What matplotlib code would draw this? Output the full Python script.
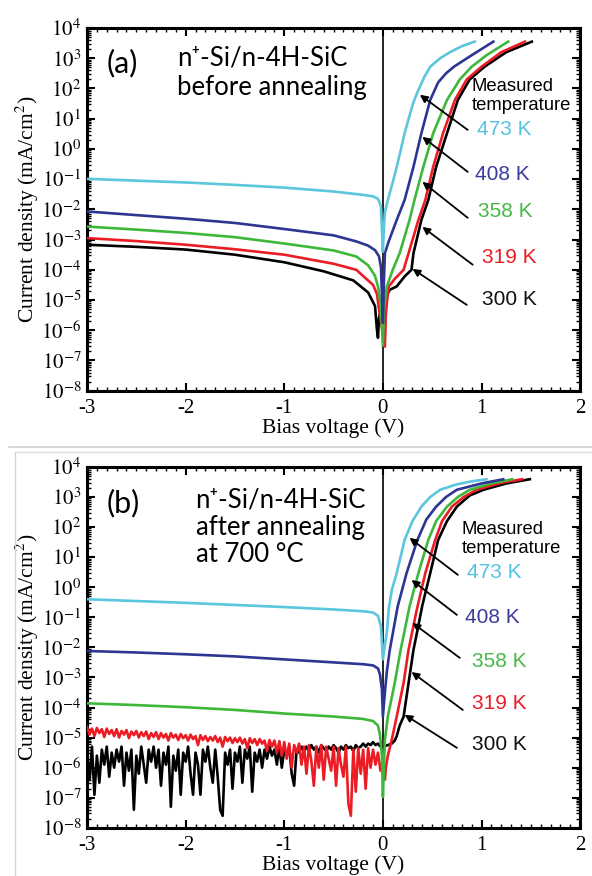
import numpy as np
import matplotlib.pyplot as plt
from matplotlib.lines import Line2D
from matplotlib.ticker import MultipleLocator, LogLocator, FuncFormatter, NullFormatter

plt.rcParams['font.family'] = 'Liberation Serif'
plt.rcParams['mathtext.fontset'] = 'stix'
plt.rcParams['axes.unicode_minus'] = False

# line colours per measured temperature
temps = ['473 K', '408 K', '358 K', '319 K', '300 K']
colors = ['#5bc6dc', '#2e3592', '#3db83a', '#ec1c24', '#000000']
label_colors = ['#52c3e2', '#3b3c9c', '#46b845', '#ec1c24', '#111111']

# ---- (a) before annealing : bias [V], log10 J [mA/cm2]
a473_v = [-3.0, -2.5, -2.0, -1.5, -1.0, -0.5, -0.2, -0.1, -0.05, -0.02, 0.0, 0.01, 0.02, 0.05, 0.1,
          0.14, 0.18, 0.22, 0.27, 0.31, 0.36, 0.42, 0.48, 0.58, 0.68, 0.80, 0.93]
a473_j = [-0.99, -1.05, -1.11, -1.19, -1.28, -1.41, -1.52, -1.57, -1.65, -1.9, -3.4, -2.6, -2.1, -1.69, -1.1,
          -0.59, -0.05, 0.52, 1.1, 1.55, 1.95, 2.38, 2.72, 3.0, 3.2, 3.4, 3.55]
a408_v = [-3.0, -2.5, -2.0, -1.5, -1.0, -0.5, -0.27, -0.15, -0.08, -0.04, -0.02, 0.0, 0.01, 0.02, 0.06,
          0.10, 0.14, 0.22, 0.31, 0.39, 0.48, 0.56, 0.64, 0.72, 0.90, 1.12]
a408_j = [-2.07, -2.19, -2.31, -2.45, -2.65, -2.86, -3.06, -3.2, -3.35, -3.55, -3.9, -5.76, -4.4, -3.45, -3.05,
          -2.7, -2.35, -1.69, -0.59, 0.52, 1.62, 2.2, 2.5, 2.72, 3.1, 3.55]
a358_v = [-3.0, -2.5, -2.0, -1.5, -1.0, -0.5, -0.27, -0.15, -0.08, -0.05, -0.02, 0.0, 0.01, 0.04, 0.10,
          0.17, 0.27, 0.32, 0.41, 0.51, 0.65, 0.78, 0.90, 1.05, 1.27]
a358_j = [-2.57, -2.67, -2.78, -2.92, -3.13, -3.36, -3.56, -3.85, -4.2, -4.55, -5.2, -6.5, -5.3, -4.55, -4.0,
          -3.45, -2.35, -1.69, -0.59, 0.52, 1.62, 2.3, 2.72, 3.1, 3.55]
a319_v = [-3.0, -2.5, -2.0, -1.5, -1.0, -0.5, -0.27, -0.1, -0.06, -0.04, 0.02, 0.03, 0.04, 0.06, 0.12,
          0.21, 0.26, 0.36, 0.43, 0.51, 0.61, 0.73, 0.85, 1.00, 1.2, 1.44]
a319_j = [-2.95, -3.05, -3.17, -3.32, -3.5, -3.8, -4.0, -4.5, -4.8, -5.3, -6.54, -5.5, -5.1, -4.55, -4.3,
          -4.0, -3.45, -2.35, -1.69, -0.59, 0.52, 1.62, 2.3, 2.72, 3.2, 3.55]
a300_v = [-3.0, -2.5, -2.0, -1.5, -1.0, -0.6, -0.3, -0.15, -0.08, -0.06, -0.05, -0.04, -0.02, 0.0, 0.03,
          0.07, 0.14, 0.22, 0.29, 0.31, 0.39, 0.46, 0.54, 0.65, 0.76, 0.88, 1.03, 1.25, 1.51]
a300_j = [-3.17, -3.24, -3.33, -3.5, -3.75, -4.05, -4.35, -4.75, -5.2, -6.0, -6.25, -5.6, -5.3, -5.1, -4.9,
          -4.66, -4.55, -4.22, -4.0, -3.45, -2.35, -1.69, -0.59, 0.52, 1.62, 2.3, 2.72, 3.2, 3.55]

# ---- (b) after annealing at 700 C
b473_v = [-3.0, -2.5, -2.0, -1.5, -1.0, -0.5, -0.2, -0.1, -0.05, -0.02, 0.0, 0.02, 0.04, 0.06, 0.09,
          0.14, 0.22, 0.30, 0.39, 0.48, 0.58, 0.75, 0.90, 1.05]
b473_j = [-0.40, -0.46, -0.52, -0.59, -0.66, -0.74, -0.80, -0.84, -0.95, -1.3, -2.4, -1.9, -1.5, -0.7, -0.1,
          0.47, 1.57, 2.2, 2.68, 3.0, 3.24, 3.42, 3.52, 3.59]
b408_v = [-3.0, -2.5, -2.0, -1.5, -1.0, -0.5, -0.2, -0.1, -0.05, -0.03, -0.01, 0.0, 0.02, 0.04, 0.07,
          0.15, 0.24, 0.35, 0.44, 0.54, 0.64, 0.75, 1.0, 1.22]
b408_j = [-2.12, -2.17, -2.23, -2.3, -2.4, -2.5, -2.56, -2.6, -2.7, -2.9, -3.4, -4.3, -3.5, -2.8, -2.08,
          -0.64, 0.47, 1.57, 2.25, 2.68, 3.0, 3.24, 3.45, 3.59]
b358_v = [-3.0, -2.5, -2.0, -1.5, -1.0, -0.5, -0.2, -0.1, -0.05, -0.03, -0.01, 0.0, 0.01, 0.02, 0.05,
          0.12, 0.18, 0.27, 0.36, 0.46, 0.54, 0.65, 0.76, 0.88, 1.1, 1.31]
b358_j = [-3.86, -3.92, -3.99, -4.08, -4.2, -4.3, -4.38, -4.45, -4.6, -4.9, -5.6, -6.97, -6.0, -5.07, -4.3,
          -3.18, -2.08, -0.64, 0.47, 1.57, 2.2, 2.68, 3.0, 3.24, 3.45, 3.59]

# noisy reverse sweeps at 319 K and 300 K, -3 V .. 0 V in 25 mV steps
sweep_v = np.round(np.arange(-3.0, 0.0001, 0.025), 3)
b319_rev_j = [
    -4.65, -4.9, -4.7, -4.95, -4.68, -4.85, -4.72, -4.98, -4.7, -4.88,
    -4.75, -4.95, -4.72, -5.0, -4.78, -4.9, -4.75, -5.02, -4.8, -4.92,
    -4.78, -5.0, -4.82, -4.95, -4.8, -5.05, -4.85, -4.98, -4.82, -5.05,
    -4.85, -5.0, -4.88, -5.1, -4.85, -5.0, -4.9, -5.08, -4.88, -5.02,
    -4.92, -5.1, -4.9, -5.05, -4.95, -5.25, -4.92, -5.08, -4.95, -5.12,
    -4.98, -5.1, -4.95, -5.15, -5.0, -5.3, -4.98, -5.12, -5.0, -5.18,
    -5.02, -5.15, -5.0, -5.2, -5.05, -5.35, -5.02, -5.18, -5.05, -5.25,
    -5.05, -5.2, -5.1, -5.45, -5.08, -5.3, -5.1, -5.5, -5.12, -5.6,
    -5.15, -5.7, -5.2, -6.0, -5.25, -5.5, -5.2, -5.9, -5.3, -6.2,
    -5.25, -5.8, -6.6, -5.3, -6.0, -5.25, -6.4, -5.3, -5.7, -6.1,
    -5.3, -6.6, -5.35, -5.9, -6.3, -5.3, -7.2, -7.6, -5.4, -6.8,
    -5.35, -6.2, -5.4, -6.7, -5.35, -6.0, -5.4, -5.9, -5.5, -6.1, -5.75]
b300_rev_j = [
    -5.5, -6.4, -5.3, -6.9, -5.6, -6.5, -5.4, -5.9, -5.3, -6.3,
    -5.5, -6.0, -5.4, -5.8, -5.3, -6.6, -5.5, -6.1, -5.4, -7.4,
    -5.6, -6.2, -5.3, -5.9, -6.5, -5.4, -5.8, -5.3, -6.0, -5.4,
    -6.6, -5.5, -5.9, -5.3, -7.3, -5.6, -6.1, -5.4, -6.9, -5.5,
    -5.8, -5.3, -6.2, -6.9, -5.5, -5.9, -6.9, -5.4, -5.8, -5.3,
    -6.0, -6.5, -5.4, -6.3, -7.4, -7.6, -5.5, -5.9, -5.4, -6.7,
    -5.5, -5.8, -5.3, -6.5, -5.4, -5.7, -5.3, -6.8, -5.5, -5.8,
    -5.4, -6.0, -5.4, -5.7, -5.3, -5.6, -5.4, -5.9, -5.3, -6.0,
    -5.4, -5.6, -5.3, -6.2, -6.6, -5.4, -5.5, -5.3, -5.45,
    -5.3, -5.45, -5.25, -5.4, -5.3, -5.5, -5.25, -5.35, -5.45, -5.3,
    -5.4, -5.25, -5.35, -5.5, -5.3, -5.4, -5.25, -5.35, -5.3, -5.45,
    -5.25, -5.35, -5.3, -5.2, -5.3, -5.2, -5.25, -5.15, -5.25, -5.2, -5.3, -5.3]
b319_fwd_v = [0.02, 0.03, 0.05, 0.09, 0.14, 0.21, 0.26, 0.34, 0.43, 0.53, 0.60, 0.70, 0.82, 0.95, 1.2, 1.41]
b319_fwd_j = [-6.4, -6.0, -5.6, -5.07, -4.3, -3.18, -2.08, -0.8, 0.47, 1.57, 2.2, 2.68, 3.0, 3.24, 3.47, 3.59]
b300_fwd_v = [0.05, 0.09, 0.12, 0.14, 0.17, 0.21, 0.26, 0.31, 0.34, 0.40, 0.48, 0.56, 0.65, 0.75, 0.88,
              1.02, 1.25, 1.49]
b300_fwd_j = [-5.25, -5.2, -5.1, -4.95, -4.6, -4.3, -3.18, -2.08, -1.6, -0.6, 0.47, 1.57, 2.2, 2.68, 3.05,
              3.24, 3.45, 3.59]

b319_v = list(sweep_v) + b319_fwd_v
b319_j = b319_rev_j + b319_fwd_j
b300_v = list(sweep_v) + b300_fwd_v
b300_j = b300_rev_j + b300_fwd_j

# label text positions (V, log J) and arrow head / tail
a_label_pos = [(0.95, 0.63), (0.93, -0.86), (0.96, -2.08), (1.0, -3.6), (1.0, -4.99)]
a_arrows = [((0.375, 1.79), (0.86, 0.63)), ((0.40, 0.40), (0.86, -0.76)), ((0.40, -1.09), (0.86, -2.28)),
            ((0.40, -2.58), (0.91, -3.83)), ((0.30, -3.97), (0.85, -5.16))]
b_label_pos = [(0.85, 0.48), (0.83, -1.02), (0.90, -2.48), (0.90, -3.85), (0.90, -5.24)]
b_arrows = [((0.27, 1.64), (0.76, 0.41)), ((0.29, 0.24), (0.75, -0.92)), ((0.30, -1.19), (0.78, -2.35)),
            ((0.29, -2.82), (0.81, -4.08)), ((0.22, -4.24), (0.75, -5.34))]

sans = ['Lato', 'DejaVu Sans']
arial = ['Liberation Sans', 'DejaVu Sans']


def style(ax):
    ax.set_yscale('log')
    ax.set_xlim(-3, 2)
    ax.set_ylim(1e-8, 1e4)
    ax.set_yticks([10.0 ** e for e in range(-8, 5)])
    ax.yaxis.set_major_formatter(FuncFormatter(lambda y, p: r'$10^{%d}$' % round(np.log10(y))))
    ax.yaxis.set_minor_locator(LogLocator(base=10, subs=np.arange(2, 10), numticks=100))
    ax.yaxis.set_minor_formatter(NullFormatter())
    ax.xaxis.set_major_locator(MultipleLocator(1))
    ax.xaxis.set_minor_locator(MultipleLocator(0.1))
    ax.tick_params(which='both', direction='in', top=True, right=True)
    ax.tick_params(which='major', length=6, width=1.5, labelsize=15)
    ax.tick_params(which='minor', length=3, width=1.0)
    ax.tick_params(axis='x', pad=6)
    ax.tick_params(axis='y', pad=4)
    for s in ax.spines.values():
        s.set_linewidth(2.2)
    ax.axvline(0, color='black', lw=1.2, zorder=1)
    ax.set_xlabel('Bias voltage (V)', fontsize=15.5, labelpad=0)
    ax.set_ylabel('Current density (mA/cm$^2$)', fontsize=15.5, labelpad=0.5)


def draw(ax, curves, label_pos, arrows):
    # draw 300 K first so the hotter curves sit on top
    for (v, j), c in list(zip(curves, colors))[::-1]:
        ax.plot(v, 10.0 ** np.array(j), color=c, lw=1.9, zorder=3)
    for t, c, (x, y) in zip(temps, label_colors, label_pos):
        ax.text(x, 10.0 ** y, t, color=c, fontsize=15, family=arial, va='center', ha='left')
    for (hx, hy), (tx, ty) in arrows:
        ax.annotate('', xy=(hx, 10.0 ** hy), xytext=(tx, 10.0 ** ty),
                    arrowprops=dict(arrowstyle='-|>', color='black', lw=1.3,
                                    mutation_scale=11, shrinkA=0, shrinkB=0), zorder=5)


fig = plt.figure(figsize=(5.92, 8.76), dpi=100)
ax_a = fig.add_axes([0.147, 0.554, 0.833, 0.414])
ax_b = fig.add_axes([0.147, 0.055, 0.833, 0.412])

style(ax_a)
draw(ax_a, [(a473_v, a473_j), (a408_v, a408_j), (a358_v, a358_j), (a319_v, a319_j), (a300_v, a300_j)],
     a_label_pos, a_arrows)
ax_a.text(0.04, 0.903, '(a)', transform=ax_a.transAxes, fontsize=22, family=sans, va='center')
ax_a.text(0.183, 0.918, 'n\u207a-Si/n-4H-SiC', transform=ax_a.transAxes, fontsize=18.5, family=sans,
          va='center')
ax_a.text(0.183, 0.835, 'before annealing', transform=ax_a.transAxes, fontsize=18.5, family=sans,
          va='center')
ax_a.text(0.90, 10.0 ** 1.75, 'Measured\ntemperature', fontsize=13.3, family=arial, va='center',
          linespacing=1.1)

style(ax_b)
draw(ax_b, [(b473_v, b473_j), (b408_v, b408_j), (b358_v, b358_j), (b319_v, b319_j), (b300_v, b300_j)],
     b_label_pos, b_arrows)
ax_b.text(0.04, 0.90, '(b)', transform=ax_b.transAxes, fontsize=22, family=sans, va='center')
ax_b.text(0.22, 0.909, 'n\u207a-Si/n-4H-SiC', transform=ax_b.transAxes, fontsize=18.5, family=sans,
          va='center')
ax_b.text(0.22, 0.831, 'after annealing', transform=ax_b.transAxes, fontsize=18.5, family=sans, va='center')
ax_b.text(0.22, 0.756, 'at 700 \u00b0C', transform=ax_b.transAxes, fontsize=18.5, family=sans, va='center')
ax_b.text(0.80, 10.0 ** 1.6, 'Measured\ntemperature', fontsize=13.3, family=arial, va='center',
          linespacing=1.1)

# light frame around the lower panel
fig.add_artist(Line2D([9 / 592, 1], [1 - 447 / 876] * 2, color='#cfcfcf', lw=1.2))
fig.add_artist(Line2D([15 / 592, 1], [1 - 452 / 876] * 2, color='#dcdcdc', lw=1.0))
fig.add_artist(Line2D([15 / 592] * 2, [0, 1 - 452 / 876], color='#d4d4d4', lw=1.0))

fig.savefig('out.png', dpi=100)
